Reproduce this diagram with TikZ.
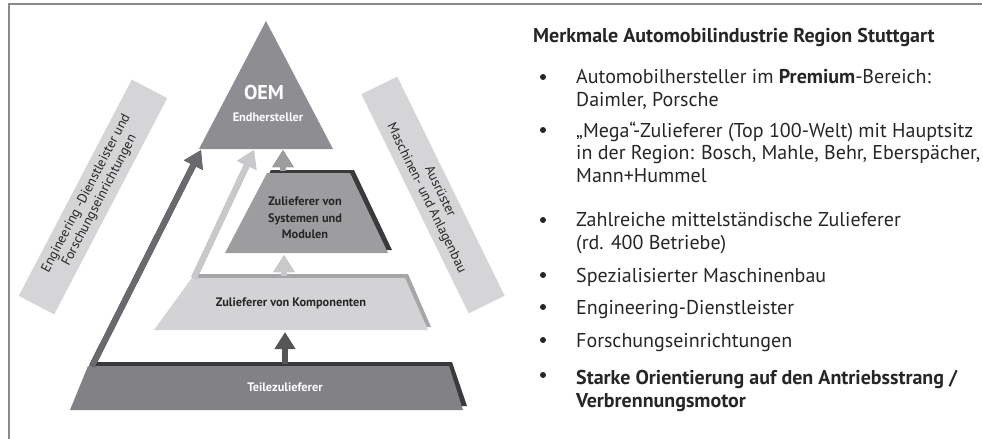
\documentclass[tikz,border=0pt]{standalone}
\usepackage{fontspec}
\setmainfont{PT Sans}
\usetikzlibrary{arrows.meta}

\definecolor{framegray}{HTML}{8A8A8A}
\definecolor{oemgray}{HTML}{8E8E92}
\definecolor{sysgray}{HTML}{9D9DA0}
\definecolor{kompgray}{HTML}{D3D3D5}
\definecolor{teilgray}{HTML}{818186}
\definecolor{bargray}{HTML}{D5D5D7}
\definecolor{shadowdark}{HTML}{3A3A3C}
\definecolor{shadowlight}{HTML}{A6A6A9}
\definecolor{arrowdark}{HTML}{6A6A6E}
\definecolor{arrowlight}{HTML}{C9C9CB}
\definecolor{textdark}{HTML}{262626}

\tikzset{
  sidebar/.style={fill=bargray, minimum width=244pt, minimum height=40pt,
    align=center, inner sep=0pt, text=textdark,
    font=\fontsize{13.5}{15}\selectfont},
  levellabel/.style={align=center, inner sep=0pt,
    font=\bfseries\fontsize{12.3}{16.5}\selectfont},
  flow/.style={line width=6pt, -{Triangle[width=20pt,length=17pt]}},
  listitem/.style={anchor=base west, align=left, inner sep=0pt,
    text=textdark, font=\fontsize{20}{22.5}\selectfont},
}

\begin{document}
\begin{tikzpicture}[x=1pt,y=-1pt]
  \useasboundingbox (0,0) rectangle (983,439);
  \draw[framegray,line width=1.5pt] (982,4) -- (9,4) -- (9,439);

  % side bars
  \node[sidebar,rotate=62.4] (engbar) at (93,197)
    {Engineering -Dienstleister und\\Forschungseinrichtungen};
  \node[sidebar,rotate=-63.9] (ausbar) at (433,195)
    {Ausrüster\\Maschinen- und Anlagenbau};

  % levels, each with its shadow
  \fill[shadowdark] (73,406) -- (91,362) -- (452,362) -- (467,406) -- cycle;
  \fill[teilgray] (70,410) -- (88,366) -- (449,366) -- (463,410) -- cycle;

  \fill[shadowlight] (157,327) -- (195,274) -- (408,274) -- (431,327) -- cycle;
  \fill[kompgray] (154,330) -- (192,278) -- (405,278) -- (428,330) -- cycle;

  \fill[shadowdark] (229,250) -- (271,170) -- (354,170) -- (392,250) -- cycle;
  \fill[sysgray] (225,253) -- (267,173) -- (350,173) -- (388,253) -- cycle;

  \fill[oemgray] (266,21) -- (333,149) -- (199,149) -- cycle;

  \coordinate (teil top) at (285,364);
  \coordinate (teil corner) at (92,366);
  \coordinate (komp bottom) at (285,332);
  \coordinate (komp top) at (284,276);
  \coordinate (komp corner) at (194,278);
  \coordinate (sys bottom) at (284,255);
  \coordinate (sys top) at (283,171);
  \coordinate (oem left) at (201,150);
  \coordinate (oem mid) at (254,150);
  \coordinate (oem right) at (283,150);

  % arrows
  \draw[flow,shadowdark,shift={(3,0)}] (teil corner) -- (oem left);
  \draw[flow,arrowdark] (teil corner) -- (oem left);
  \draw[flow,shadowlight,shift={(3,0)}] (komp corner) -- (oem mid);
  \draw[flow,arrowlight] (komp corner) -- (oem mid);
  \draw[flow,shadowdark,shift={(2,0)}] (sys top) -- (oem right);
  \draw[flow,sysgray] (sys top) -- (oem right);
  \draw[flow,shadowlight,shift={(2,0)}] (komp top) -- (sys bottom);
  \draw[flow,arrowlight] (komp top) -- (sys bottom);
  \draw[flow,arrowdark!80!black] (teil top) -- (komp bottom);

  % level labels
  \node[white,font=\bfseries\fontsize{20}{22}\selectfont] (oem) at (264,92) {OEM};
  \node[levellabel,white] (endh) at (268,117) {Endhersteller};
  \node[levellabel,text=textdark] (sys) at (305,218)
    {Zulieferer von\\Systemen und\\Modulen};
  \node[levellabel,text=textdark] (komp) at (291,303) {Zulieferer von Komponenten};
  \node[levellabel,white] (teil) at (285,387) {Teilezulieferer};

  % list on the right (base = last line)
  \node[listitem,font=\bfseries\fontsize{20}{22.5}\selectfont] (head) at (533,42)
    {Merkmale Automobilindustrie Region Stuttgart};
  \foreach \y in {77,130,220,275,307,340,375}
    \fill[textdark] (543,\y) circle (3pt);
  \node[listitem] (item1) at (576,106)
    {Automobilhersteller im \textbf{Premium}-Bereich:\\Daimler, Porsche};
  \node[listitem] (item2) at (576,182)
    {„Mega“-Zulieferer (Top 100-Welt) mit Hauptsitz\\in der Region: Bosch, Mahle, Behr, Eberspächer,\\Mann+Hummel};
  \node[listitem] (item3) at (576,249)
    {Zahlreiche mittelständische Zulieferer\\(rd. 400 Betriebe)};
  \node[listitem] (item4) at (576,282) {Spezialisierter Maschinenbau};
  \node[listitem] (item5) at (576,314) {Engineering-Dienstleister};
  \node[listitem] (item6) at (576,347) {Forschungseinrichtungen};
  \node[listitem,font=\bfseries\fontsize{20}{22.5}\selectfont] (item7) at (576,407)
    {Starke Orientierung auf den Antriebsstrang /\\Verbrennungsmotor};
\end{tikzpicture}
\end{document}
